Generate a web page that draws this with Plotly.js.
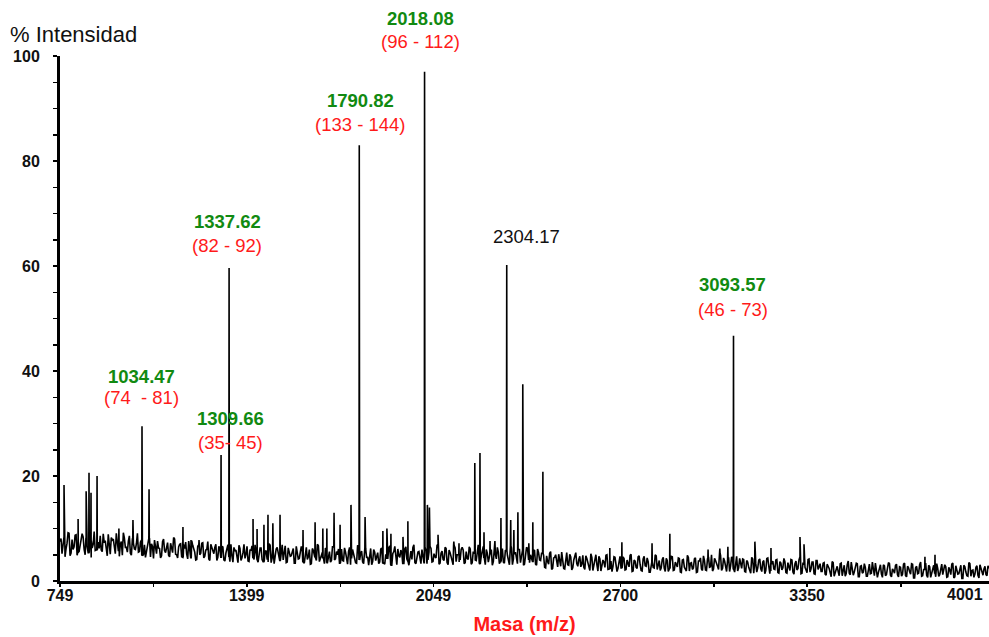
<!DOCTYPE html>
<html>
<head>
<meta charset="utf-8">
<script src="https://cdn.plot.ly/plotly-3.0.1.min.js"></script>
<style>html,body{margin:0;padding:0;background:#fff;}#chart{width:989px;height:637px;}</style>
</head>
<body>
<div id="chart"></div>
<script>
// sampling grid of the baseline trace (m/z): noiseA on the grid, noiseB half a step later
const mzStart = 749;
const mzStep = 7;
// baseline noise intensities (%)
const noiseA = [
7.5,5.2,8.4,6.1,9.2,4.8,7.9,6.5,8.8,5.5,7.2,9.0,6.0,8.1,5.4,7.7,6.3,9.4,5.9,7.4,
8.6,5.6,7.3,6.2,8.9,5.1,7.8,6.7,9.1,5.8,7.0,4.9,8.2,6.4,7.6,5.3,8.0,6.1,7.1,5.5,
7.4,4.8,6.9,5.6,8.1,4.6,6.6,7.8,5.2,6.3,4.4,7.5,5.8,6.8,4.9,7.2,5.4,8.0,5.0,6.5,
7.1,4.5,6.2,5.1,7.6,4.3,6.8,5.5,4.1,6.9,5.3,7.3,4.7,6.0,4.2,7.0,5.6,6.4,3.9,6.6,
4.4,6.5,3.8,5.9,4.6,7.0,3.6,5.7,4.9,6.8,3.9,5.4,4.3,6.6,3.7,5.8,4.5,6.9,4.0,5.5,
6.3,3.7,5.6,4.2,7.1,3.5,5.9,4.6,6.4,3.8,5.2,4.0,6.7,3.6,5.5,4.8,6.2,3.4,5.7,4.3,
6.6,3.6,5.3,4.1,6.0,3.3,5.8,4.5,7.0,3.7,5.1,4.4,6.3,3.5,5.6,3.9,6.5,4.2,5.0,3.4,
6.1,3.8,5.5,3.2,6.4,4.3,5.2,3.5,6.8,4.0,5.7,3.3,6.2,4.6,5.0,3.1,6.0,3.9,5.4,3.6,
6.3,3.4,5.1,4.2,6.7,3.0,5.6,3.8,6.1,4.5,5.3,3.2,6.5,3.7,5.0,4.1,6.9,3.3,5.5,3.9,
6.0,3.5,5.8,4.0,6.6,3.6,5.2,4.4,7.0,3.4,5.7,3.9,6.2,3.1,5.4,4.3,6.8,3.7,5.0,4.0,
6.4,3.3,5.6,4.1,6.1,3.5,5.3,3.9,6.9,3.2,5.8,4.4,6.0,3.6,5.1,3.0,6.5,4.2,5.5,3.7,
6.2,3.4,5.7,3.8,6.7,3.1,5.2,4.3,6.0,3.5,5.9,3.2,6.4,4.0,5.0,3.6,5.8,3.0,5.4,3.9,
5.3,2.6,4.8,3.2,5.6,2.4,4.5,3.5,5.1,2.8,4.2,2.3,5.4,3.0,4.6,2.5,5.0,3.3,4.1,2.7,
4.9,2.2,4.3,2.9,5.2,2.0,3.9,3.1,4.7,1.9,4.0,2.6,5.0,2.3,3.8,2.8,4.5,1.8,4.1,2.5,
4.6,2.1,4.0,2.7,5.1,1.9,3.8,2.4,4.8,2.0,4.2,2.9,4.4,1.7,3.6,2.6,5.0,2.2,3.9,2.5,
4.5,1.8,3.9,2.4,4.7,2.0,3.6,2.7,4.3,1.6,4.1,2.2,4.9,1.9,3.5,2.5,4.4,1.7,3.8,2.3,
4.8,2.1,4.2,2.6,5.0,2.3,3.9,2.8,5.3,2.0,4.4,2.5,4.0,1.8,4.6,2.2,3.7,1.9,4.3,2.4,
4.1,1.7,3.6,2.2,4.5,1.5,3.4,2.5,4.2,1.8,3.9,2.0,4.4,1.4,3.3,2.3,4.0,1.6,3.7,2.1,
4.3,1.6,3.5,2.0,4.0,1.3,3.8,2.4,4.6,1.5,3.2,2.1,4.1,1.7,3.6,1.4,3.9,2.2,3.3,1.8,
3.5,1.1,2.9,1.6,3.7,0.9,2.6,1.8,3.3,1.0,3.0,1.4,3.8,1.2,2.5,1.7,3.4,0.8,2.8,1.5,
3.3,0.9,2.7,1.4,3.6,1.0,2.4,1.6,3.1,0.7,2.9,1.2,3.5,1.1,2.3,1.5,3.2,0.8,2.6,1.3,
3.4,0.8,2.5,1.3,3.2,0.6,2.8,1.5,3.6,1.0,2.2,1.1,3.0,0.7,2.6,1.4,3.3,0.9,2.4,1.2,
3.1,0.7,2.6,1.2,3.4,0.8,2.3,1.4,3.0,0.5,2.7,1.0,3.5,0.9,2.1,1.3,2.9,0.6,2.5,1.1,
2.8,1.0,2.4
];
const noiseB = [
8.1,6.9,4.6,7.2,9.1,5.3,6.0,8.7,4.9,5.6,7.9,8.4,5.0,6.6,9.3,4.5,7.0,5.8,8.8,6.2,
5.9,9.0,7.7,4.8,6.1,8.3,8.0,5.2,6.9,4.7,7.5,9.2,6.4,5.5,8.6,4.9,7.2,6.0,9.1,5.6,
7.8,5.0,4.5,6.6,8.2,7.1,4.3,5.9,7.6,6.2,4.8,8.0,5.4,7.3,4.6,6.1,8.3,5.1,4.4,7.0,
4.6,6.9,7.4,4.2,5.7,7.7,6.3,4.0,6.6,5.0,7.2,4.4,5.9,7.5,3.9,6.4,5.2,7.0,4.5,6.1,
6.6,4.0,5.3,6.9,3.7,4.8,6.4,5.9,3.5,6.2,4.4,7.0,5.1,3.8,6.0,6.7,4.1,5.5,3.6,6.3,
4.1,6.5,5.8,3.6,6.8,4.4,3.3,6.1,5.4,4.0,6.9,5.0,3.5,6.3,4.7,5.9,3.4,6.6,4.2,5.3,
5.7,3.4,6.4,4.6,3.2,6.2,5.1,3.9,6.7,4.3,5.5,3.3,6.0,4.8,3.6,6.5,4.0,5.6,6.1,3.5,
3.9,6.3,4.1,5.6,3.1,6.0,4.9,3.4,6.5,5.2,3.6,5.8,4.4,3.0,6.2,3.7,5.5,4.6,3.3,6.1,
5.8,3.2,4.5,6.3,3.6,5.2,6.6,3.1,4.8,5.9,3.4,6.1,4.2,3.0,5.7,6.4,3.5,4.9,5.6,3.3,
4.4,6.5,3.3,5.5,6.2,3.7,4.6,6.8,3.2,5.3,4.1,6.4,3.5,5.9,4.7,3.1,6.3,5.0,3.6,6.0,
5.9,3.5,4.3,6.5,3.2,5.6,4.0,6.2,3.4,4.8,6.6,3.1,5.3,4.5,6.0,3.7,5.1,6.4,3.3,4.6,
3.6,5.9,4.9,3.1,6.3,4.2,5.5,3.3,6.0,4.6,3.0,5.7,6.2,3.5,4.4,5.9,3.2,6.1,4.0,5.3,
4.9,2.5,3.7,5.3,2.2,4.4,5.0,2.7,3.4,5.5,2.4,4.6,3.1,5.1,2.1,4.0,5.4,2.8,4.7,3.2,
2.6,4.8,3.5,2.0,4.5,3.0,5.0,1.9,4.2,2.7,3.6,4.9,2.2,4.0,1.8,4.6,3.2,2.4,4.7,2.9,
4.3,2.2,3.4,4.9,1.8,4.0,2.6,4.6,3.1,1.9,4.7,2.8,3.7,1.7,4.4,2.5,4.8,3.3,2.0,4.1,
2.4,4.3,1.8,3.7,4.6,2.1,3.2,4.4,1.7,4.0,2.6,1.9,4.5,3.4,2.2,4.2,1.6,3.8,4.4,2.0,
3.9,2.0,4.6,2.7,1.9,4.3,3.5,2.2,4.9,2.4,3.8,1.8,4.5,2.9,4.1,1.7,4.7,2.5,3.6,4.2,
1.8,3.9,2.6,1.5,4.2,3.1,1.7,4.0,2.3,3.6,1.4,4.3,2.8,1.9,3.8,2.2,4.1,1.5,3.4,2.5,
3.7,1.5,2.9,4.1,1.7,3.3,2.1,4.0,1.4,3.5,2.6,1.6,4.2,2.3,3.6,1.3,3.9,2.7,1.8,3.4,
1.3,3.2,2.4,0.8,3.5,1.6,2.8,1.0,3.4,2.0,0.9,3.1,1.5,3.6,1.1,2.6,3.3,0.8,2.9,1.7,
2.6,0.9,3.2,1.5,2.2,3.4,0.7,2.8,1.3,3.1,1.0,2.4,3.3,0.8,2.0,3.0,1.2,2.7,0.9,3.2,
1.0,2.8,1.8,3.3,0.6,2.5,1.4,3.1,0.9,2.2,3.4,0.7,2.7,1.6,3.0,0.8,2.4,1.2,3.2,1.9,
2.7,0.8,2.1,3.2,0.6,2.9,1.3,2.4,0.5,3.0,1.7,0.9,3.3,2.0,0.7,2.6,1.1,3.1,1.5,2.3,
1.2,2.9
];
// peaks (m/z) and their intensities (%)
const peakMz  = [763, 812, 840, 850, 857, 878, 954, 1003, 1034.47, 1059, 1177, 1205, 1233,
  1309.66, 1337.62, 1421, 1435, 1459, 1473, 1490, 1515, 1595, 1637, 1664, 1678, 1703, 1724,
  1762, 1790.82, 1811, 1873, 1887, 1901, 1943, 1960, 2018.08, 2028, 2035, 2065, 2120, 2138,
  2193, 2211, 2225, 2246, 2263, 2284, 2304.17, 2318, 2329, 2343, 2360, 2381, 2395, 2430,
  2663, 2705, 2810, 2872, 3005, 3046, 3074, 3093.57, 3168, 3224, 3325, 3339, 3760, 3795];
const peakInt = [18.3, 11.8, 17.1, 20.6, 16.8, 20.0, 10.0, 11.6, 29.5, 17.5, 10.3, 7.8, 7.8,
  24.0, 59.6, 11.8, 9.9, 10.7, 12.6, 11.0, 12.6, 9.7, 11.2, 10.0, 10.0, 13.0, 10.7,
  14.5, 83.0, 12.2, 9.5, 10.0, 9.0, 8.4, 11.4, 97.0, 14.5, 14.0, 8.8, 7.5, 7.2,
  22.5, 24.4, 9.3, 7.6, 7.6, 12.0, 60.2, 11.6, 9.7, 13.1, 37.5, 7.2, 11.2, 20.8,
  6.3, 7.4, 7.2, 9.0, 6.0, 6.2, 6.5, 46.7, 7.5, 6.3, 8.4, 7.0, 4.6, 5.0];
// labelled peaks
const labelMass  = ["1034.47", "1309.66", "1337.62", "1790.82", "2018.08", "2304.17", "3093.57"];
const labelRange = ["(74 \u00a0- 81)", "(35- 45)", "(82 - 92)", "(133 - 144)", "(96 - 112)", "", "(46 - 73)"];
const labelIdentified = [true, true, true, true, true, false, true];
// axis ticks
const xTickVals = [749, 1399, 2049, 2700, 3350];
const xTickText = ["749", "1399", "2049", "2700", "3350"];
const xLastTick = "4001";
const yTickVals = [0, 20, 40, 60, 80, 100];

// build the spectrum: baseline + peaks
const pts = [];
noiseA.forEach((v, i) => pts.push([mzStart + i * mzStep, v]));
noiseB.forEach((v, i) => pts.push([mzStart + (i + 0.5) * mzStep, v]));
peakMz.forEach((m, i) => {
  const idx = Math.min(noiseA.length - 1, Math.max(0, Math.round((m - mzStart) / mzStep)));
  const b = noiseA[idx];
  pts.push([m - 0.8, b]);
  pts.push([m, peakInt[i]]);
  pts.push([m + 0.8, b]);
});
pts.sort((a, b) => a[0] - b[0]);
const xs = pts.map(p => p[0]);
const ys = pts.map(p => p[1]);

const FONT = "Arial, 'Liberation Sans', sans-serif";
const GREEN = "#118a11";
const RED = "#ff1a1a";

// label placement (layout only; y in fractions of the plot height)
const labelPlace = [
  {xs: -1, gy: 0.390, ry: 0.350},
  {xs: 9,  gy: 0.309, ry: 0.263},
  {xs: -2, gy: 0.684, ry: 0.640},
  {xs: 1,  gy: 0.916, ry: 0.870},
  {xs: -4, gy: 1.072, ry: 1.028},
  {xs: 20, gy: 0.657, ry: 0},
  {xs: -1, gy: 0.564, ry: 0.518}
];
const annotations = [];
labelMass.forEach((t, i) => {
  const m = parseFloat(t);
  const p = labelPlace[i];
  annotations.push({
    x: m, y: p.gy, xref: 'x', yref: 'paper', xshift: p.xs, showarrow: false,
    text: labelIdentified[i] ? '<b>' + t + '</b>' : t,
    font: {family: FONT, size: 18.5, color: labelIdentified[i] ? GREEN : '#111'},
    xanchor: 'center', yanchor: 'middle'
  });
  if (labelRange[i]) {
    annotations.push({
      x: m, y: p.ry, xref: 'x', yref: 'paper', xshift: p.xs, showarrow: false,
      text: labelRange[i],
      font: {family: FONT, size: 18.5, color: RED},
      xanchor: 'center', yanchor: 'middle'
    });
  }
});
annotations.push({
  x: (965 - 60) / 929, y: -13 / 525, xref: 'paper', yref: 'paper', showarrow: false,
  text: '<b>' + xLastTick + '</b>', font: {family: FONT, size: 16, color: '#111'},
  xanchor: 'center', yanchor: 'middle'
});

const trace = {
  x: xs, y: ys, type: 'scatter', mode: 'lines',
  line: {color: '#000', width: 1.6},
  hoverinfo: 'skip'
};

const layout = {
  width: 989, height: 637,
  margin: {l: 60, r: 0, t: 56, b: 56},
  paper_bgcolor: '#fff', plot_bgcolor: '#fff',
  showlegend: false,
  font: {family: FONT, color: '#111'},
  title: {
    text: '% Intensidad', xref: 'container', yref: 'container',
    x: 10 / 989, xanchor: 'left', y: 1 - 34 / 637, yanchor: 'middle',
    font: {family: FONT, size: 22, color: '#111'}
  },
  xaxis: {
    range: [749, 3983], showgrid: false, zeroline: false,
    showline: true, linecolor: '#000', linewidth: 2.5,
    tickmode: 'array', tickvals: xTickVals, ticktext: xTickText,
    ticks: 'outside', ticklen: 3, tickwidth: 1.5, tickcolor: '#000',
    ticklabelstandoff: -5,
    minor: {tick0: 749, dtick: 325.25, ticks: 'outside', ticklen: 3, tickwidth: 1.5, tickcolor: '#000'},
    tickfont: {family: FONT, size: 16, color: '#111', weight: 'bold'},
    title: {text: 'Masa (m/z)', standoff: 15, font: {family: FONT, size: 20, color: RED, weight: 'bold'}}
  },
  yaxis: {
    range: [0, 100], showgrid: false, zeroline: false,
    showline: true, linecolor: '#000', linewidth: 3,
    tickmode: 'array', tickvals: yTickVals,
    ticks: 'outside', ticklen: 4, tickwidth: 1.5, tickcolor: '#000',
    minor: {tick0: 0, dtick: 5, ticks: 'outside', ticklen: 4, tickwidth: 1.5, tickcolor: '#000'},
    ticklabelstandoff: 10,
    tickfont: {family: FONT, size: 16, color: '#111', weight: 'bold'}
  },
  annotations: annotations
};

Plotly.newPlot('chart', [trace], layout, {displayModeBar: false, staticPlot: true});
</script>
</body>
</html>
